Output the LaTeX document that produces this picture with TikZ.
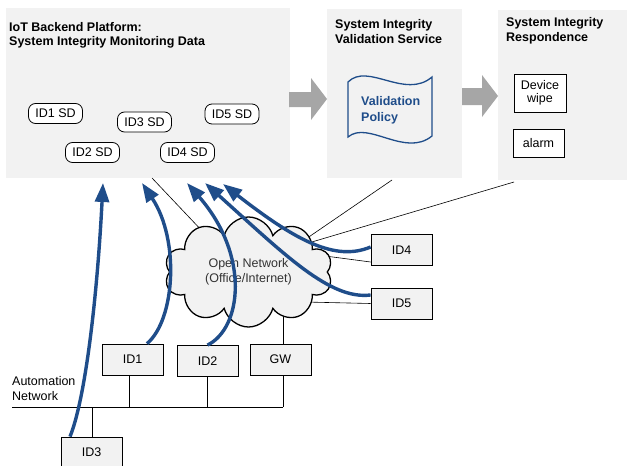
\documentclass[tikz,border=0pt]{standalone}
\usepackage{fontspec}
\setmainfont{Liberation Sans}
\usetikzlibrary{shapes.symbols,arrows.meta,calc}
\definecolor{panel}{HTML}{F2F2F2}
\definecolor{garrow}{HTML}{A6A6A6}
\definecolor{iotblue}{RGB}{31,77,138}
\begin{document}
\begin{tikzpicture}[x=1pt,y=-1pt,
  font=\fontsize{12.5}{14.5}\selectfont,
  panelbox/.style={fill=panel,draw=none,anchor=north west,inner sep=0pt},
  titletext/.style={anchor=north west,inner sep=0pt,align=left,font=\fontsize{12.5}{14.5}\selectfont\bfseries},
  sdnode/.style={draw,rounded corners=7pt,fill=white,minimum width=54pt,minimum height=20pt,inner sep=0pt,line width=0.8pt},
  devbox/.style={draw,fill=panel,minimum width=61pt,minimum height=31pt,inner sep=0pt,line width=0.8pt},
  actbox/.style={draw,fill=white,inner sep=0pt,line width=0.8pt,align=center},
  thinline/.style={draw=black,line width=0.6pt},
  bluearrow/.style={draw=iotblue,line width=3.4pt,-{Triangle[length=19pt,width=14pt]}},
  blockarrow/.style={fill=garrow,draw=none}]
\useasboundingbox (0,0) rectangle (627,466);

% panels
\node[panelbox,minimum width=284pt,minimum height=170pt] (P1) at (6,8) {};
\node[panelbox,minimum width=135pt,minimum height=169pt] (P2) at (327,9) {};
\node[panelbox,minimum width=135pt,minimum height=170pt] (P3) at (498,10) {};

% block arrows
\fill[blockarrow] (289,92) -- (311,92) -- (311,78) -- (327,99) -- (311,120) -- (311,107) -- (289,107) -- cycle;
\fill[blockarrow] (462,88) -- (482,88) -- (482,75) -- (498,96) -- (482,117) -- (482,105) -- (462,105) -- cycle;

% titles
\node[titletext] (T1) at (9,22) {IoT Backend Platform:\\System Integrity Monitoring Data};
\node[titletext] (T2) at (335,19.5) {System Integrity\\Validation Service};
\node[titletext] (T3) at (506,17.5) {System Integrity\\Respondence};

% SD nodes
\node[sdnode] (SD1) at (55.5,113.5) {ID1 SD};
\node[sdnode] (SD3) at (144.5,122) {ID3 SD};
\node[sdnode] (SD5) at (232,114) {ID5 SD};
\node[sdnode] (SD2) at (92.5,152.5) {ID2 SD};
\node[sdnode] (SD4) at (187.5,152.5) {ID4 SD};

% validation policy flag
\draw[iotblue,line width=1.3pt] (348,82) .. controls (368,62) and (405,100) .. (432,77)
  -- (432,136) .. controls (405,158) and (368,120) .. (348,137) -- cycle;
\node[anchor=north west,inner sep=0pt,align=left,text=iotblue,
  font=\fontsize{12.5}{16}\selectfont\bfseries] (VP) at (361,96.5) {Validation\\Policy};

% response boxes
\node[actbox,minimum width=52pt,minimum height=38pt,font=\fontsize{12.5}{13.5}\selectfont] (DW) at (540,93) {Device\\wipe};
\node[actbox,minimum width=51pt,minimum height=28pt] (AL) at (538.5,143) {alarm};

% devices
\node[devbox] (ID1) at (132.5,359.5) {ID1};
\node[devbox] (ID2) at (207.5,361) {ID2};
\node[devbox] (GW) at (280.5,359.5) {GW};
\node[devbox] (ID3) at (91.5,452.5) {ID3};
\node[devbox] (ID4) at (401.5,250) {ID4};
\node[devbox] (ID5) at (401.5,303.5) {ID5};

% thin connections (behind cloud)
\coordinate (a1) at (152,178);
\coordinate (b1) at (205,234);
\coordinate (a2) at (392,180);
\coordinate (b2) at (300,243);
\coordinate (a3) at (514,182);
\coordinate (b3) at (300,245.5);
\coordinate (b4) at (310,254);
\coordinate (b5) at (305,302);
\draw[thinline] (a1) -- (b1);
\draw[thinline] (a2) -- (b2);
\draw[thinline] (a3) -- (b3);
\draw[thinline] (b4) -- ([yshift=-12pt]ID4.west);
\draw[thinline] (b5) -- (ID5.west);
\draw[thinline] ([xshift=2.5pt]GW.north) -- ++(0,-40);

% cloud
\node[cloud,draw,fill=panel,line width=1.3pt,cloud puffs=10,aspect=1.5,
  minimum width=168pt,minimum height=110pt,inner sep=0pt,align=center,
  text=black!80] (NET) at (248.5,272) {Open Network\\(Office/Internet)};

% automation bus
\coordinate (busL) at (12,407);
\coordinate (busR) at (283,407);
\draw[thinline] (busL) -- (busR);
\draw[thinline] ([xshift=-3.5pt]ID1.south) -- ([xshift=-3.5pt]ID1.south |- busL);
\draw[thinline] ([xshift=-0.5pt]ID2.south) -- ([xshift=-0.5pt]ID2.south |- busL);
\draw[thinline] ([xshift=2.5pt]GW.south) -- ([xshift=2.5pt]GW.south |- busL);
\draw[thinline] ([xshift=0.5pt]ID3.north) -- ([xshift=0.5pt]ID3.north |- busL);
\node[anchor=north west,inner sep=0pt,align=left,font=\fontsize{12.5}{15}\selectfont] (AN) at (12,376) {Automation\\Network};

% blue data flows
\coordinate (t1) at (103,183);
\coordinate (t2) at (142,183);
\coordinate (t3) at (187,183);
\coordinate (t4) at (205,183);
\coordinate (t5) at (223,184);
\draw[bluearrow] ([xshift=-21.5pt]ID3.north) .. controls (85,400) and (97,300) .. (t1);
\draw[bluearrow] ([xshift=14.5pt]ID1.north) .. controls (175,320) and (180,240) .. (t2);
\draw[bluearrow] (ID2.north) .. controls (242,328) and (250,255) .. (t3);
\draw[bluearrow] ([yshift=8.5pt]ID5.west) .. controls (330,300) and (285,255) .. (t4);
\draw[bluearrow] ([yshift=3pt]ID4.west) .. controls (335,262) and (295,240) .. (t5);
\end{tikzpicture}
\end{document}
